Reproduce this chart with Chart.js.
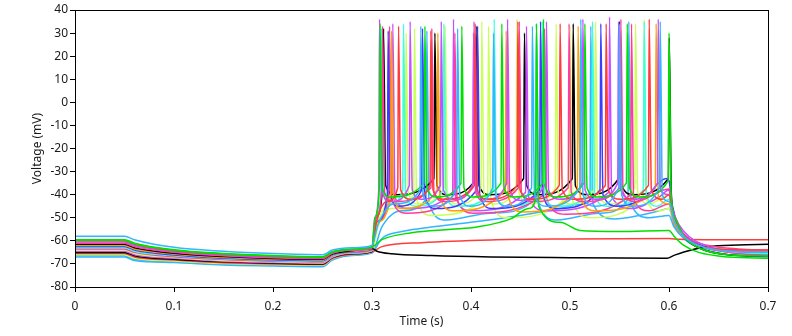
<!DOCTYPE html>
<html>
<head>
<meta charset="utf-8">
<script src="https://cdn.jsdelivr.net/npm/chart.js@4"></script>
<style>
  html, body { margin: 0; padding: 0; background: #fff; }
  #wrap { width: 792px; height: 336px; }
</style>
</head>
<body>
<div id="wrap"><canvas id="trace-chart" width="792" height="336"></canvas></div>
<script>
// axis ticks
const xTicks = [0, 0.1, 0.2, 0.3, 0.4, 0.5, 0.6, 0.7];
const xTickLabels = ['0', '0.1', '0.2', '0.3', '0.4', '0.5', '0.6', '0.7'];
const yTicks = [-80, -70, -60, -50, -40, -30, -20, -10, 0, 10, 20, 30, 40];
const yTickLabels = ['-80', '-70', '-60', '-50', '-40', '-30', '-20', '-10', '0', '10', '20', '30', '40'];

// time points (s) of the pre-step part, shared by every sweep
const preTimes = [0, 0.05, 0.06, 0.1, 0.15, 0.2, 0.25, 0.26, 0.28];

// voltage (mV) at preTimes, one row per sweep
const preValues = [
    [-58, -58, -59.5, -62.8, -64.5, -65.5, -66, -64, -63],
    [-59.5, -59.5, -61, -63.9, -65.5, -66.4, -66.9, -64.7, -63.6],
    [-59.8, -59.8, -61.3, -64.1, -65.7, -66.6, -67, -64.9, -63.7],
    [-60, -60, -61.5, -64.3, -65.8, -66.7, -67.2, -64.9, -63.7],
    [-60.5, -60.5, -62, -64.6, -66.2, -67, -67.4, -65.2, -63.9],
    [-61, -61, -62.5, -65, -66.5, -67.3, -67.7, -65.4, -64.1],
    [-61.5, -61.5, -63, -65.4, -66.8, -67.6, -68, -65.7, -64.3],
    [-62, -62, -63.5, -65.7, -67.2, -67.9, -68.3, -65.9, -64.5],
    [-62.5, -62.5, -64, -66.1, -67.5, -68.2, -68.6, -66.1, -64.7],
    [-63, -63, -64.5, -66.5, -67.8, -68.5, -68.9, -66.4, -64.8],
    [-63.5, -63.5, -65, -66.9, -68.1, -68.8, -69.2, -66.6, -65],
    [-64, -64, -65.5, -67.2, -68.5, -69.1, -69.5, -66.8, -65.2],
    [-64.5, -64.5, -66, -67.6, -68.8, -69.4, -69.8, -67.1, -65.4],
    [-65, -65, -66.5, -68, -69.1, -69.7, -70.1, -67.3, -65.6],
    [-65.5, -65.5, -67, -68.3, -69.5, -70, -70.3, -67.6, -65.8],
    [-66, -66, -67.5, -68.7, -69.8, -70.3, -70.6, -67.8, -65.9],
    [-66.5, -66.5, -68, -69.1, -70.1, -70.6, -70.9, -68, -66.1],
    [-67, -67, -68.5, -69.4, -70.5, -70.9, -71.2, -68.3, -66.3]
];

// [time, voltage] from the step onwards, one array per sweep
const skyA = [[0.3,-62],[0.306,-53],[0.322,-44],[0.3485,-38],[0.3493,33],[0.3515,-40],[0.362,-45],[0.3856,-37],[0.3864,32],[0.3886,-40],[0.399,-45],[0.4219,-37],[0.4227,30],[0.4249,-40],[0.436,-45],[0.4612,-37],[0.462,33],[0.4642,-40],[0.476,-45],[0.5101,-37],[0.5109,36],[0.5131,-40],[0.525,-45],[0.5492,-37],[0.55,34],[0.5522,-40],[0.563,-45],[0.5903,-37],[0.5911,35],[0.5933,-40],[0.6,-43],[0.605,-51],[0.615,-58],[0.63,-62],[0.66,-64.5],[0.7,-65]];
const greenA = [[0.3,-62.6],[0.303,-50],[0.3074,-37],[0.3082,34],[0.3104,-37],[0.318,-41],[0.3526,-35],[0.3534,33],[0.3556,-37],[0.365,-41],[0.3899,-35],[0.3907,33],[0.3929,-37],[0.402,-41],[0.4303,-35],[0.4311,34],[0.4333,-37],[0.443,-41],[0.4724,-35],[0.4732,36],[0.4754,-37],[0.486,-41],[0.5142,-35],[0.515,34],[0.5172,-37],[0.527,-41],[0.557,-35],[0.5578,34],[0.56,-37],[0.57,-41],[0.5992,-34],[0.6,30],[0.6022,-40],[0.606,-50],[0.615,-58],[0.63,-63],[0.66,-66],[0.7,-66.5]];
const greenC = [[0.3,-62.7],[0.31,-59.5],[0.34,-56.5],[0.38,-55],[0.406,-54],[0.44,-50.5],[0.458,-46],[0.4653,-42],[0.4661,34],[0.4683,-45],[0.49,-52],[0.51,-55.5],[0.55,-56],[0.6,-55.5],[0.605,-58],[0.615,-62],[0.63,-65],[0.66,-67],[0.7,-67.5]];
const redB = [[0.3,-62.7],[0.305,-51],[0.315,-43],[0.326,-37],[0.3268,33],[0.329,-38],[0.339,-42],[0.3586,-36],[0.3594,31],[0.3616,-38],[0.372,-42],[0.4034,-36],[0.4042,34],[0.4064,-38],[0.417,-42],[0.4465,-36],[0.4473,35],[0.4495,-38],[0.461,-42],[0.4892,-36],[0.49,34],[0.4922,-38],[0.504,-42],[0.5357,-36],[0.5365,34],[0.5387,-38],[0.551,-42],[0.5792,-36],[0.58,36],[0.5822,-38],[0.593,-42],[0.6,-40],[0.604,-48],[0.612,-56],[0.625,-61],[0.65,-63.5],[0.7,-64]];
const purpleA = [[0.3,-62.9],[0.303,-50],[0.3068,-38],[0.3076,36],[0.3098,-38],[0.319,-43],[0.3377,-36],[0.3385,35],[0.3407,-38],[0.35,-42],[0.3691,-36],[0.3699,35],[0.3721,-38],[0.383,-42],[0.4022,-35],[0.403,35],[0.4052,-38],[0.416,-42],[0.4361,-35],[0.4369,36],[0.4391,-38],[0.45,-42.5],[0.4754,-35],[0.4762,35],[0.4784,-38],[0.49,-42],[0.5122,-35],[0.513,36],[0.5152,-38],[0.526,-42],[0.5482,-35],[0.549,35],[0.5512,-38],[0.563,-42],[0.5883,-35],[0.5891,36],[0.5913,-38],[0.6,-40],[0.603,-46],[0.61,-53],[0.62,-58],[0.64,-62.5],[0.67,-64.5],[0.7,-65]];
const pinkA = [[0.3,-63.1],[0.304,-50],[0.3098,-38],[0.3106,33],[0.3128,-39],[0.321,-43],[0.3596,-37],[0.3604,32],[0.3626,-39],[0.373,-43],[0.4017,-37],[0.4025,30],[0.4047,-39],[0.415,-43],[0.4479,-37],[0.4487,35],[0.4509,-39],[0.462,-43],[0.4982,-37],[0.499,34],[0.5012,-39],[0.513,-43],[0.5506,-37],[0.5514,36],[0.5536,-39],[0.566,-43],[0.6,-37.5],[0.603,-45],[0.61,-54],[0.62,-59],[0.64,-62],[0.67,-63.5],[0.7,-64]];
const blackA = [[0.3,-63.3],[0.305,-64.5],[0.32,-65.6],[0.36,-66.4],[0.42,-67],[0.5,-67.3],[0.598,-67.5],[0.605,-66.3],[0.615,-64.8],[0.64,-62.5],[0.67,-61.8],[0.7,-61.5]];
const orangeA = [[0.3,-63.5],[0.305,-52],[0.3189,-40],[0.3197,31],[0.3219,-41],[0.33,-46],[0.3657,-38],[0.3665,30],[0.3687,-41],[0.382,-47],[0.4347,-38],[0.4355,31],[0.4377,-41],[0.452,-47.5],[0.5074,-38],[0.5082,33],[0.5104,-41],[0.526,-47],[0.5862,-37],[0.587,34],[0.5892,-41],[0.6,-44],[0.605,-52],[0.615,-58],[0.63,-62],[0.66,-64],[0.7,-64.5]];
const blueA = [[0.3,-63.7],[0.304,-52],[0.3155,-40],[0.3163,31],[0.3185,-40],[0.327,-45],[0.3502,-38],[0.351,32],[0.3532,-40],[0.364,-46],[0.4058,-38],[0.4066,33],[0.4088,-40],[0.421,-46],[0.4694,-38],[0.4702,35],[0.4724,-40],[0.485,-46],[0.5303,-38],[0.5311,34],[0.5333,-40],[0.548,-45],[0.575,-41.5],[0.597,-33],[0.6,-34],[0.603,-44],[0.61,-54],[0.62,-59],[0.64,-63],[0.67,-64.5],[0.7,-65]];
const cyanA = [[0.3,-63.8],[0.303,-52],[0.3088,-40],[0.3096,32],[0.3118,-40],[0.318,-44],[0.331,-38],[0.3318,34],[0.334,-40],[0.344,-45],[0.3718,-38],[0.3726,34],[0.3748,-40],[0.385,-45],[0.4226,-38],[0.4234,36],[0.4256,-40],[0.437,-45],[0.4712,-38],[0.472,35],[0.4742,-40],[0.486,-45],[0.5219,-38],[0.5227,35],[0.5249,-40],[0.537,-45],[0.5741,-38],[0.5749,35],[0.5771,-40],[0.588,-45],[0.6,-42],[0.603,-47],[0.61,-55],[0.62,-60],[0.64,-63],[0.67,-65],[0.7,-65.5]];
const pinkB = [[0.3,-64],[0.304,-52],[0.3169,-40],[0.3177,33],[0.3199,-42],[0.335,-48],[0.3829,-40],[0.3837,30],[0.3859,-42],[0.402,-48],[0.4734,-40],[0.4742,32],[0.4764,-42],[0.495,-48.5],[0.5613,-40],[0.5621,34],[0.5643,-42],[0.58,-47],[0.6,-44],[0.605,-52],[0.615,-58],[0.63,-62],[0.66,-65],[0.7,-66.5]];
const ygA = [[0.3,-64.2],[0.306,-52],[0.318,-44],[0.3337,-39],[0.3345,30],[0.3367,-39],[0.346,-44],[0.3731,-37],[0.3739,33],[0.3761,-39],[0.386,-44],[0.4101,-37],[0.4109,35],[0.4131,-39],[0.423,-44],[0.4455,-37],[0.4463,36],[0.4485,-39],[0.459,-44],[0.4852,-37],[0.486,34],[0.4882,-39],[0.5,-44],[0.525,-37],[0.5258,35],[0.528,-39],[0.54,-44],[0.5654,-37],[0.5662,34],[0.5684,-39],[0.58,-44],[0.6,-40],[0.603,-47],[0.61,-55],[0.62,-60],[0.64,-63],[0.67,-64],[0.7,-64.5]];
const purpleB = [[0.3,-64.4],[0.304,-51],[0.3202,-39],[0.321,34],[0.3232,-41],[0.336,-46],[0.3815,-39],[0.3823,36],[0.3845,-41],[0.4,-47],[0.4552,-39],[0.456,33],[0.4582,-41],[0.476,-47],[0.5391,-39],[0.5399,37],[0.5421,-41],[0.562,-46],[0.59,-41],[0.6,-38],[0.603,-46],[0.61,-55],[0.62,-60],[0.64,-63],[0.67,-65.5],[0.7,-66]];
const blackB = [[0.3,-64.6],[0.304,-50],[0.3108,-36],[0.3116,32],[0.3138,-36],[0.324,-40],[0.3627,-33],[0.3635,30],[0.3657,-36],[0.376,-40],[0.4051,-33],[0.4059,33],[0.4081,-36],[0.419,-40],[0.4532,-33],[0.454,30],[0.4562,-36],[0.468,-40],[0.5024,-33],[0.5032,34],[0.5054,-36],[0.517,-40],[0.5492,-33],[0.55,35],[0.5522,-36],[0.564,-40],[0.5994,-33],[0.6002,28],[0.6024,-40],[0.606,-50],[0.615,-58],[0.63,-63],[0.66,-66],[0.7,-66.5]];
const redA = [[0.3,-64.8],[0.31,-62.5],[0.35,-60.8],[0.42,-59.6],[0.5,-59.2],[0.6,-59],[0.61,-59.3],[0.65,-59.5],[0.7,-59.5]];
const ygB = [[0.3,-64.9],[0.306,-54],[0.32,-46],[0.3421,-40],[0.3429,32],[0.3451,-42],[0.36,-49],[0.4169,-40],[0.4177,33],[0.4199,-42],[0.436,-50],[0.4992,-40],[0.5,33],[0.5022,-42],[0.52,-50],[0.5741,-40],[0.5749,36],[0.5771,-42],[0.59,-47],[0.6,-46],[0.605,-52],[0.615,-58],[0.63,-62],[0.66,-64],[0.7,-64.5]];
const skyC = [[0.3,-65.1],[0.31,-59],[0.33,-56],[0.36,-54],[0.4,-52],[0.45,-49],[0.49,-46],[0.515,-44],[0.5202,-42],[0.521,33],[0.5232,-44],[0.545,-50.5],[0.57,-49],[0.59,-47],[0.6,-46],[0.605,-53],[0.615,-59],[0.63,-63],[0.66,-66],[0.7,-67]];
const skyB = [[0.3,-65.3],[0.31,-54],[0.33,-47],[0.3546,-42],[0.3554,31],[0.3576,-44],[0.375,-51],[0.42,-48],[0.4653,-42],[0.4661,34],[0.4683,-44],[0.487,-51],[0.53,-48],[0.5586,-42],[0.5594,35],[0.5616,-44],[0.58,-50],[0.6,-49],[0.605,-54],[0.615,-59],[0.63,-62.5],[0.66,-64.5],[0.7,-65]];

const sweepRuns = [skyA, greenA, greenC, redB, purpleA, pinkA, blackA, orangeA, blueA, cyanA, pinkB, ygA, purpleB, blackB, redA, ygB, skyC, skyB];
const sweepColors = ['#33b5ff', '#00e000', '#00e000', '#ff3c3c', '#c84dff', '#ff3c9e', '#000000', '#ffa000', '#3c3cff', '#3cffe0', '#ff3c9e', '#ccff5a', '#c84dff', '#000000', '#ff3c3c', '#ccff5a', '#33b5ff', '#33b5ff'];

const datasets = sweepRuns.map(function (run, i) {
    const pts = preTimes.map(function (t, j) { return { x: t, y: preValues[i][j] }; });
    run.forEach(function (p) { pts.push({ x: p[0], y: p[1] }); });
    return {
        data: pts,
        borderColor: sweepColors[i],
        borderWidth: 1.5,
        pointRadius: 0,
        fill: false,
        cubicInterpolationMode: 'monotone',
    };
});

// box round the plot area
const frame = {
    id: 'frame',
    afterDraw(chart) {
        const a = chart.chartArea;
        const c = chart.ctx;
        c.save();
        c.strokeStyle = '#000';
        c.lineWidth = 1;
        c.strokeRect(a.left + 0.5, a.top + 0.5, a.right - a.left, a.bottom - a.top);
        c.restore();
    }
};

const tickFont = { family: "'Noto Sans', 'Open Sans', sans-serif", size: 12 };

new Chart(document.getElementById('trace-chart').getContext('2d'), {
    type: 'line',
    data: { datasets: datasets },
    options: {
        responsive: false,
        animation: false,
        events: [],
        layout: { padding: { top: 10, right: 24, left: 0, bottom: 0 } },
        plugins: { legend: { display: false }, tooltip: { enabled: false } },
        scales: {
            x: {
                type: 'linear',
                min: 0,
                max: 0.7,
                afterBuildTicks: function (scale) { scale.ticks = xTicks.map(function (v) { return { value: v }; }); },
                afterFit: function (scale) { scale.height = 49; },
                ticks: {
                    color: '#1a1a1a',
                    font: tickFont,
                    padding: 7,
                    maxRotation: 0,
                    autoSkip: false,
                    callback: function (v) { return xTickLabels[xTicks.indexOf(v)]; }
                },
                grid: { drawOnChartArea: false, drawTicks: true, tickLength: 5, color: '#000' },
                border: { display: false },
                title: { display: true, text: 'Time (s)', color: '#1a1a1a', font: tickFont, padding: { top: 0, bottom: 7 } }
            },
            y: {
                type: 'linear',
                min: -80,
                max: 40,
                afterBuildTicks: function (scale) { scale.ticks = yTicks.map(function (v) { return { value: v }; }); },
                afterFit: function (scale) { scale.width = 75; },
                ticks: {
                    color: '#1a1a1a',
                    font: tickFont,
                    padding: 2,
                    autoSkip: false,
                    callback: function (v) { return yTickLabels[yTicks.indexOf(v)]; }
                },
                grid: { drawOnChartArea: false, drawTicks: true, tickLength: 5, color: '#000' },
                border: { display: false },
                title: { display: true, text: 'Voltage (mV)', color: '#1a1a1a', font: tickFont, padding: { top: 30, bottom: 0 } }
            }
        }
    },
    plugins: [frame]
});
</script>
</body>
</html>
